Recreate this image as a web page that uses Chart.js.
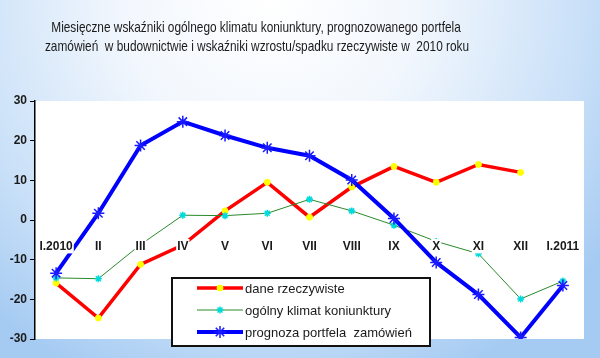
<!DOCTYPE html>
<html><head><meta charset="utf-8">
<script src="https://cdn.jsdelivr.net/npm/chart.js@4.4.1/dist/chart.umd.min.js"></script>
<style>
html,body{margin:0;padding:0;width:600px;height:358px;overflow:hidden;
background: radial-gradient(ellipse 70% 115% at 45% 0%, #ffffff 0%, #f2f7fd 35%, #c9e0f8 75%, #a6cbf2 100%);}
#wrap{width:600px;height:358px;position:relative}
</style>
</head><body><div id="wrap"><canvas id="c" width="600" height="358"></canvas></div>
<script>
const categories = ['I.2010','II','III','IV','V','VI','VII','VIII','IX','X','XI','XII','I.2011'];
const daneRzeczywiste = [-15.9,-24.7,-11.2,-6.3,2.3,9.5,0.7,8.3,13.5,9.5,14,12,null];
const ogolnyKlimat = [-14.6,-14.8,-6.2,1.2,1.1,1.7,5.2,2.3,-1.3,-5.4,-8.5,-19.9,-15.4];
const prognozaPortfela = [-13.4,1.7,18.8,24.8,21.3,18.2,16.2,10.1,0.4,-10.7,-18.8,-29.6,-16.5];
const yTicks = [-30,-20,-10,0,10,20,30];
const seriesNames = ['dane rzeczywiste','ogólny klimat koniunktury','prognoza portfela  zamówień'];
const titleLines = ['Miesięczne wskaźniki ogólnego klimatu koniunktury, prognozowanego portfela',
                    'zamówień  w budownictwie i wskaźniki wzrostu/spadku rzeczywiste w  2010 roku'];

function drawMarker(ctx, style, r, x, y, fill, stroke, lw){
  ctx.save();
  ctx.fillStyle=fill; ctx.strokeStyle=stroke; ctx.lineWidth=lw;
  ctx.beginPath();
  if(style==='circle'){
    ctx.arc(x,y,r,0,Math.PI*2); ctx.fill(); ctx.stroke();
  } else {
    for(let k=0;k<4;k++){
      const a=k*Math.PI/4;
      ctx.moveTo(x-Math.cos(a)*r, y-Math.sin(a)*r);
      ctx.lineTo(x+Math.cos(a)*r, y+Math.sin(a)*r);
    }
    ctx.stroke();
  }
  ctx.restore();
}

const plotBg = {
  id:'plotBg',
  beforeDraw(chart){
    const {ctx, chartArea:a} = chart;
    ctx.save(); ctx.fillStyle='#ffffff';
    ctx.fillRect(a.left, a.top, a.right-a.left, a.bottom-a.top);
    ctx.restore();
  }
};
const titlePlugin = {
  id:'titlePlugin',
  afterDraw(chart){
    const ctx = chart.ctx;
    const pos=[[256,28],[257,47]];
    titleLines.forEach((t,i)=>{
      ctx.save();
      ctx.fillStyle='#1a1a1a';
      ctx.font='15px "Liberation Sans", Arial, sans-serif';
      ctx.textAlign='center'; ctx.textBaseline='middle';
      ctx.translate(pos[i][0], pos[i][1]);
      ctx.scale(0.79,1);
      ctx.fillText(t, 0, 0);
      ctx.restore();
    });
  }
};
const legendPlugin = {
  id:'legendBox',
  afterDraw(chart){
    const ctx = chart.ctx;
    const x0=172, y0=278, w=258, h=68;
    ctx.save();
    ctx.fillStyle='#ffffff'; ctx.fillRect(x0,y0,w,h);
    ctx.strokeStyle='#111'; ctx.lineWidth=2; ctx.strokeRect(x0,y0,w,h);
    const rows=[288,310,332];
    chart.data.datasets.forEach((ds,i)=>{
      const y=rows[i];
      ctx.strokeStyle=ds.borderColor; ctx.lineWidth=ds.borderWidth;
      ctx.beginPath(); ctx.moveTo(197,y); ctx.lineTo(243,y); ctx.stroke();
      drawMarker(ctx, ds.pointStyle, ds.pointRadius, 220, y, ds.pointBackgroundColor, ds.pointBorderColor, ds.pointBorderWidth);
      ctx.fillStyle='#1a1a1a';
      ctx.font='13px "Liberation Sans", Arial, sans-serif';
      ctx.textAlign='left'; ctx.textBaseline='middle';
      ctx.fillText(ds.label, 245, y+1);
    });
    ctx.restore();
  }
};

new Chart(document.getElementById('c'), {
  type:'line',
  data:{
    labels: categories,
    datasets:[
      {label:seriesNames[0], data:daneRzeczywiste, borderColor:'#ff0000', borderWidth:3.5,
       pointStyle:'circle', pointRadius:3, pointBackgroundColor:'#ffff00', pointBorderColor:'#ffff00', pointBorderWidth:1, order:3},
      {label:seriesNames[1], data:ogolnyKlimat, borderColor:'#2a8a2a', borderWidth:1,
       pointStyle:'star', pointRadius:3.5, pointBackgroundColor:'#00e5e5', pointBorderColor:'#00dada', pointBorderWidth:1.5, order:2},
      {label:seriesNames[2], data:prognozaPortfela, borderColor:'#0000ff', borderWidth:4,
       pointStyle:'star', pointRadius:6, pointBackgroundColor:'#0000ff', pointBorderColor:'#1a1aff', pointBorderWidth:1.5, order:1}
    ]
  },
  options:{
    responsive:false, animation:false, devicePixelRatio:1,
    layout:{padding:{top:101,right:16,bottom:19,left:0}},
    elements:{line:{tension:0}},
    plugins:{legend:{display:false}, tooltip:{enabled:false}, title:{display:false}},
    scales:{
      x:{
        type:'category', offset:true, position:{y:0},
        grid:{display:false, drawTicks:false}, border:{display:false},
        ticks:{z:1, padding:19, maxRotation:0, autoSkip:false, color:'#1a1a1a',
               showLabelBackdrop:true, backdropColor:'#ffffff', backdropPadding:{top:0,bottom:0,left:1,right:1},
               font:{family:'"Liberation Sans", Arial, sans-serif', size:12, weight:'bold'}}
      },
      y:{
        min:-30, max:30,
        afterBuildTicks(s){ s.ticks = yTicks.map(v=>({value:v})); },
        afterFit(s){ s.width = 35; },
        grid:{display:true, drawOnChartArea:false, drawTicks:true, tickLength:5, color:'#000', lineWidth:1},
        border:{display:true, color:'#000', width:1.5},
        ticks:{padding:3, color:'#1a1a1a', font:{family:'"Liberation Sans", Arial, sans-serif', size:12, weight:'bold'}}
      }
    }
  },
  plugins:[plotBg, titlePlugin, legendPlugin]
});
</script>
</body></html>
